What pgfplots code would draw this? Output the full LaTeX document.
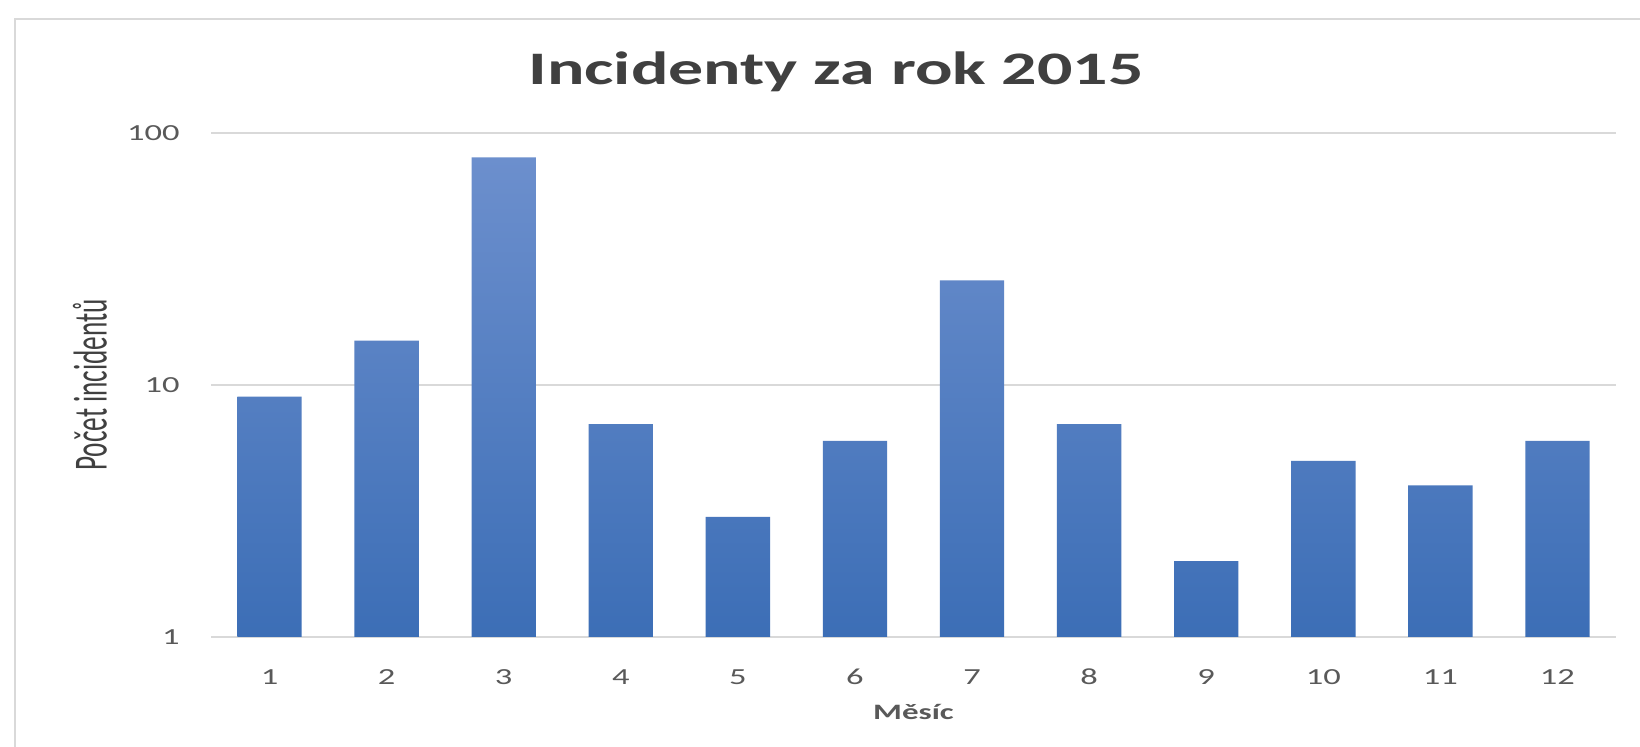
\documentclass[border=0pt]{standalone}
\usepackage{fontspec}
\setmainfont{Carlito}[FakeStretch=1.5]
\newfontfamily\plainfont{Carlito}
\usepackage{pgfplots}
\pgfplotsset{compat=1.18}
\definecolor{txt}{RGB}{89,89,89}
\definecolor{ttl}{RGB}{64,64,64}
\definecolor{gridc}{RGB}{217,217,217}
\definecolor{bartop}{RGB}{108,143,205}
\definecolor{barbot}{RGB}{60,110,182}
\begin{document}
\begin{tikzpicture}
\path[use as bounding box] (0,0) rectangle (820bp,373.5bp);
\fill[white] (0,0) rectangle (820bp,373.5bp);
\draw[gridc, line width=1.2bp] (7.5bp,-2bp) -- (7.5bp,364bp) -- (822bp,364bp);
\begin{axis}[
  at={(105.5bp,55bp)}, anchor=south west,
  scale only axis, width=702.5bp, height=252bp,
  ymode=log, ymin=1, ymax=100,
  ytick={1,10,100}, yticklabels={1,10,100},
  xmin=0.5, xmax=12.5, xtick={1,...,12},
  ybar, bar width=0.55,
  axis line style={draw=none},
  major tick style={draw=none}, minor tick style={draw=none},
  ymajorgrids, yminorgrids=false,
  grid style={gridc, line width=1bp},
  ticklabel style={font=\fontsize{11.5bp}{13bp}\selectfont, text=txt},
  yticklabel style={anchor=east, inner sep=0pt, xshift=-15.5bp},
  xticklabel style={anchor=base, inner sep=0pt, yshift=-19.5bp},
  /pgf/number format/assume math mode=true,
  xlabel={Měsíc},
  xlabel style={at={(axis description cs:0.5,-0.163)}, anchor=base,
    font=\bfseries\fontsize{11bp}{13bp}\selectfont, text=txt},
  ylabel={Počet incidentů},
  ylabel style={at={(axis description cs:-0.0861,0.5)}, anchor=center,
    font=\plainfont\fontsize{13.6bp}{16bp}\selectfont, text=ttl, yscale=1.75},
]
\addplot[draw=none, top color=bartop, bottom color=barbot] coordinates {
  (1,9) (2,15) (3,80) (4,7) (5,3) (6,6) (7,26) (8,7) (9,2) (10,5) (11,4) (12,6)
};
\end{axis}
\node[anchor=base, font=\bfseries\fontsize{23.3bp}{28bp}\selectfont, text=ttl] at (418bp,331bp) {Incidenty za rok 2015};
\end{tikzpicture}
\end{document}
